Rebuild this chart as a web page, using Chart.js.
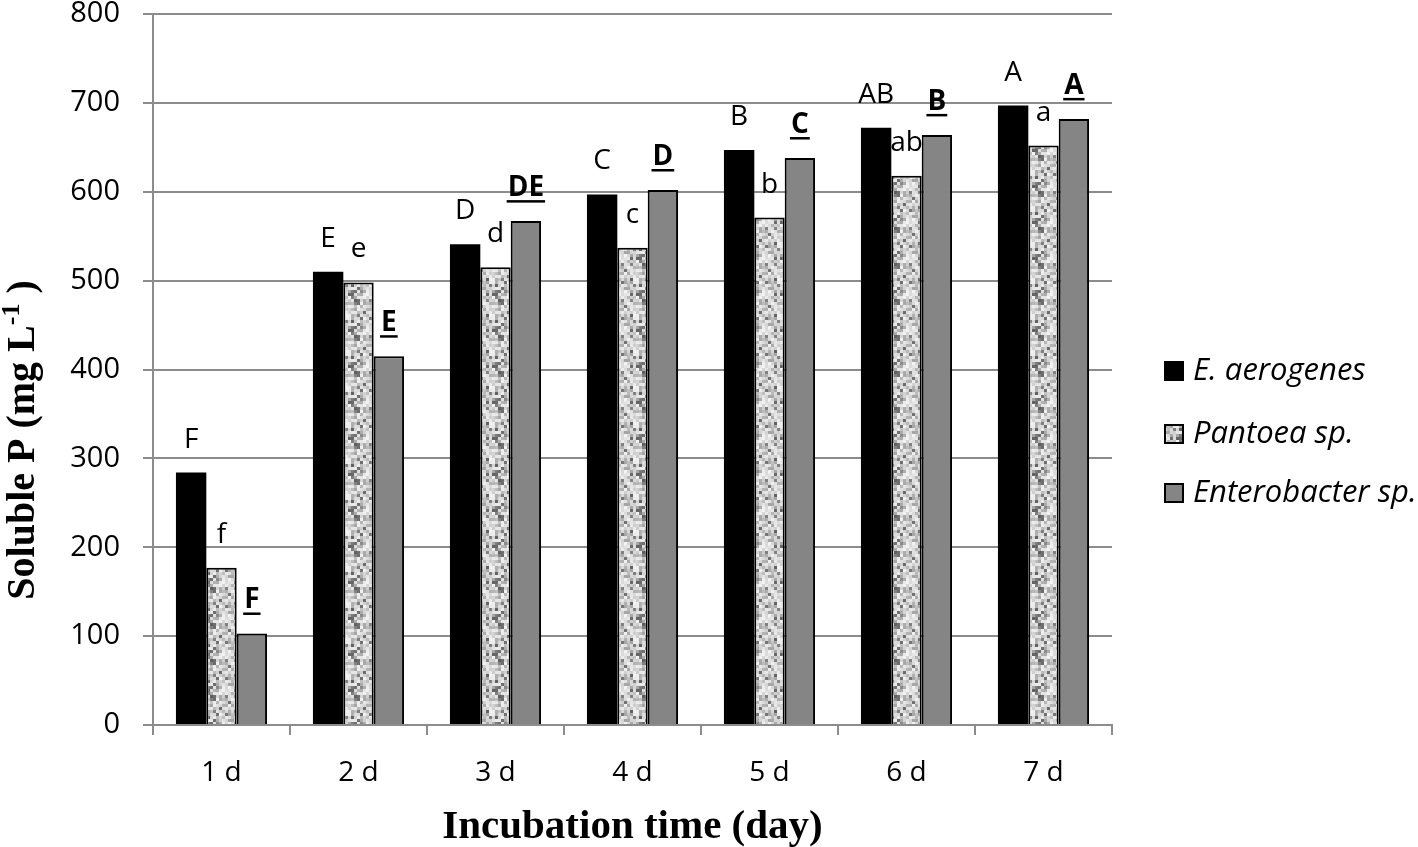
<!DOCTYPE html>
<html>
<head>
<meta charset="utf-8">
<script src="https://cdn.jsdelivr.net/npm/chart.js@4.4.1/dist/chart.umd.min.js"></script>
<style>
  html, body { margin: 0; padding: 0; background: #fff; }
  #wrap { width: 1418px; height: 847px; position: relative; overflow: hidden; }
  /* canvas is taller and lifted so the plot top lands near the page top */
  #chart { position: absolute; left: 0; top: -22px; }
</style>
</head>
<body>
<div id="wrap"><canvas id="chart" width="1418" height="869"></canvas></div>
<script>
// data
const days = ['1 d', '2 d', '3 d', '4 d', '5 d', '6 d', '7 d'];
const aerogenes = [284, 510, 541, 597, 647, 672, 697];
const pantoea = [177, 498, 515, 537, 571, 618, 652];
const enterobacter = [103, 415, 567, 602, 638, 664, 682];

const aerogenesLetters = ['F', 'E', 'D', 'C', 'B', 'AB', 'A'];
const pantoeaLetters = ['f', 'e', 'd', 'c', 'b', 'ab', 'a'];
const enterobacterLetters = ['F', 'E', 'DE', 'D', 'C', 'B', 'A'];

const seriesNames = ['E. aerogenes', 'Pantoea sp.', 'Enterobacter sp.'];

const SHIFT = 22;

// speckled grey fill like the old Excel texture
function speckle() {
    const c = document.createElement('canvas');
    c.width = 36; c.height = 36;
    const g = c.getContext('2d');
    let s = 11;
    const next = () => { s = (s * 9301 + 49297) % 233280; return s / 233280; };
    for (let y = 0; y < 36; y += 3) {
        for (let x = 0; x < 36; x += 3) {
            const r = next();
            let v;
            if (r < 0.15) v = 95 + Math.floor(next() * 45);
            else if (r < 0.45) v = 165 + Math.floor(next() * 30);
            else v = 205 + Math.floor(next() * 40);
            g.fillStyle = `rgb(${v},${v},${v})`;
            g.fillRect(x, y, 3, 3);
        }
    }
    return g.createPattern(c, 'repeat');
}
const pantoeaFill = speckle();

const letters = [aerogenesLetters, pantoeaLetters, enterobacterLetters];

const letterPlugin = {
    id: 'letters',
    afterDatasetsDraw(chart) {
        const ctx = chart.ctx;
        ctx.save();
        ctx.fillStyle = '#000';
        ctx.textAlign = 'center';
        ctx.textBaseline = 'alphabetic';
        chart.data.datasets.forEach((ds, i) => {
            const meta = chart.getDatasetMeta(i);
            meta.data.forEach((bar, j) => {
                const txt = letters[i][j];
                const underline = i === 2;
                ctx.font = (underline ? 'bold ' : '') + '28px "Open Sans"';
                const y = bar.y - 25;
                ctx.fillText(txt, bar.x, y);
                if (underline) {
                    const w = ctx.measureText(txt).width;
                    ctx.fillRect(bar.x - w / 2 - 1, y + 4, w + 2, 2.5);
                }
            });
        });
        ctx.restore();
    }
};

// legend + axis titles drawn by hand (y title sits below the axis centre)
const sidePlugin = {
    id: 'sideLegend',
    afterDraw(chart) {
        const ctx = chart.ctx;
        const area = chart.chartArea;
        ctx.save();
        const x0 = 1165, rows = [371, 434, 493];
        chart.data.datasets.forEach((ds, i) => {
            const y = rows[i] + SHIFT;
            ctx.fillStyle = ds.backgroundColor;
            ctx.fillRect(x0, y - 9, 18, 18);
            ctx.lineWidth = 2;
            ctx.strokeStyle = '#000';
            ctx.strokeRect(x0, y - 9, 18, 18);
            ctx.fillStyle = '#000';
            ctx.font = 'italic 31px "Open Sans"';
            ctx.textBaseline = 'middle';
            ctx.textAlign = 'left';
            ctx.fillText(seriesNames[i], x0 + 28, y);
        });

        // x title
        ctx.font = 'bold 41px "Liberation Serif"';
        ctx.textAlign = 'center';
        ctx.textBaseline = 'middle';
        ctx.fillText('Incubation time (day)', (area.left + area.right) / 2, 827 + SHIFT);

        // y title with superscript
        ctx.translate(24, 440 + SHIFT);
        ctx.rotate(-Math.PI / 2);
        const parts = [['Soluble P (mg L', 40, 0], ['-1', 26, -12], [' )', 40, 0]];
        let total = 0;
        parts.forEach(p => { ctx.font = `bold ${p[1]}px "Liberation Serif"`; total += ctx.measureText(p[0]).width; });
        let x = -total / 2;
        ctx.textAlign = 'left';
        parts.forEach(p => {
            ctx.font = `bold ${p[1]}px "Liberation Serif"`;
            ctx.fillText(p[0], x, p[2]);
            x += ctx.measureText(p[0]).width;
        });
        ctx.restore();
    }
};

new Chart(document.getElementById('chart'), {
    type: 'bar',
    data: {
        labels: days,
        datasets: [
            { label: seriesNames[0], data: aerogenes, backgroundColor: '#000000', borderColor: '#000', borderWidth: 0 },
            { label: seriesNames[1], data: pantoea, backgroundColor: pantoeaFill, borderColor: '#000', borderWidth: 2 },
            { label: seriesNames[2], data: enterobacter, backgroundColor: '#858585', borderColor: '#000', borderWidth: 2 }
        ]
    },
    options: {
        responsive: false,
        animation: false,
        layout: { padding: { top: 0, right: 306, left: 0, bottom: 0 } },
        datasets: { bar: { categoryPercentage: 0.665, barPercentage: 1.0 } },
        scales: {
            x: {
                afterFit(scale) { scale.height = 122; },
                grid: { offset: true, drawOnChartArea: false, drawTicks: true, tickLength: 10, color: '#8c8c8c', lineWidth: 2 },
                border: { color: '#8c8c8c', width: 2 },
                ticks: { color: '#000', font: { family: 'Open Sans', size: 28 }, padding: 21 }
            },
            y: {
                min: 0, max: 800,
                afterFit(scale) { scale.width = 153; },
                grid: { color: '#8c8c8c', lineWidth: 2, tickLength: 10 },
                border: { color: '#8c8c8c', width: 2 },
                ticks: { stepSize: 100, color: '#000', font: { family: 'Open Sans', size: 29, lineHeight: 0.9 }, padding: 23 }
            }
        },
        plugins: { legend: { display: false }, tooltip: { enabled: false } }
    },
    plugins: [letterPlugin, sidePlugin]
});
</script>
</body>
</html>
